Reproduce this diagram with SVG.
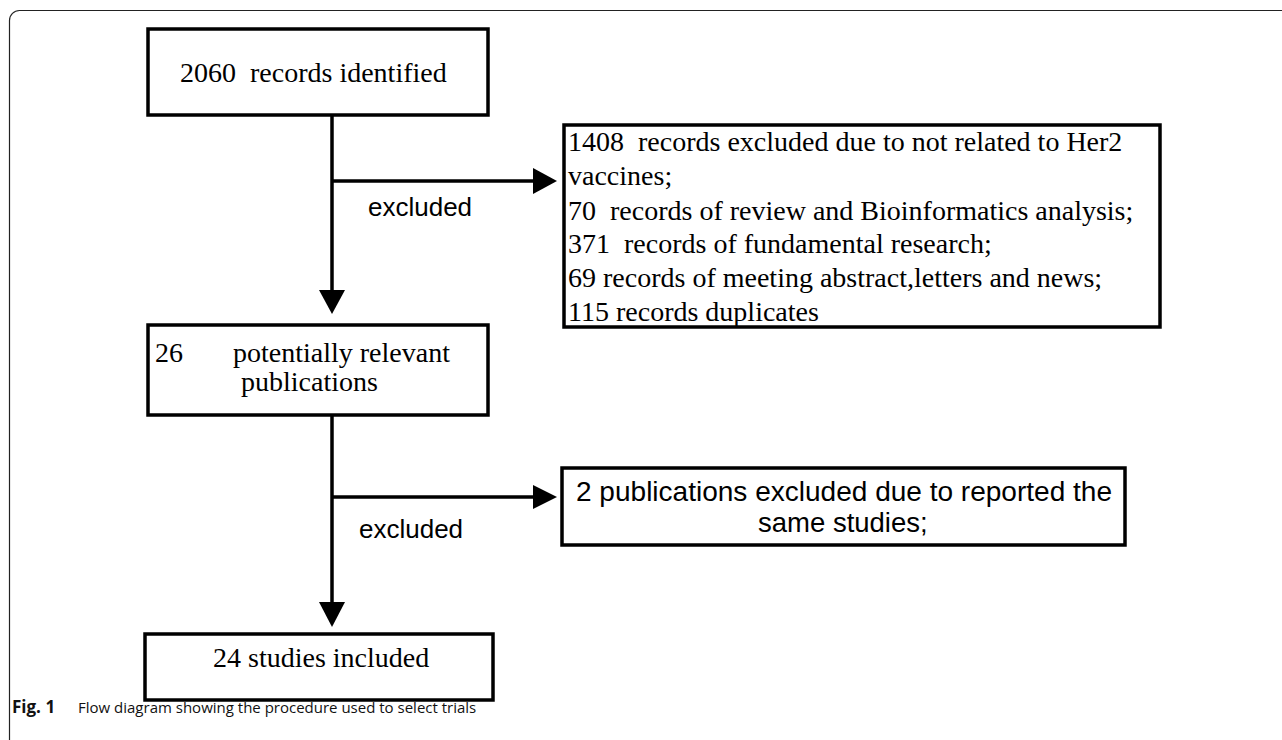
<svg xmlns="http://www.w3.org/2000/svg" width="1282" height="740" viewBox="0 0 1282 740">
<defs>
<style>
.box{fill:#fff;stroke:#000;stroke-width:3.5}
.t{font-family:"Liberation Serif","Times New Roman",serif;font-size:28px;fill:#000}
.s{font-family:"Liberation Sans",Arial,sans-serif;font-size:27.5px;fill:#000}
.x{font-family:"Liberation Sans",Arial,sans-serif;font-size:26px;fill:#000}
.c{stroke:#000;stroke-width:3.5;fill:none}
.cap{font-family:"Open Sans","Noto Sans",sans-serif;font-size:15px;fill:#111}
</style>
</defs>
<rect width="1282" height="740" fill="#fff"/>
<path d="M9.5,740 V20.5 A10,10 0 0 1 19.5,10.5 H1282" fill="none" stroke="#222" stroke-width="1.2"/>

<g id="connectors">
<line class="c" x1="332" y1="115" x2="332" y2="300"/>
<path d="M319,290 L345,290 L332,314 Z" fill="#000"/>
<line class="c" x1="332" y1="181" x2="536" y2="181"/>
<path d="M533,168 L557,181 L533,194 Z" fill="#000"/>
<line class="c" x1="332" y1="415" x2="332" y2="610"/>
<path d="M319,602 L345,602 L332,627 Z" fill="#000"/>
<line class="c" x1="332" y1="497" x2="536" y2="497"/>
<path d="M533,485 L557,497 L533,509 Z" fill="#000"/>
<text class="x" x="368" y="216">excluded</text>
<text class="x" x="359" y="538">excluded</text>
</g>

<g id="n1">
<rect class="box" x="148" y="29" width="340" height="86"/>
<text class="t" x="180" y="82" xml:space="preserve">2060  records identified</text>
</g>

<g id="n2">
<rect class="box" x="564" y="125" width="596" height="202"/>
<text class="t" x="568" y="151" xml:space="preserve">1408  records excluded due to not related to Her2</text>
<text class="t" x="568" y="185">vaccines;</text>
<text class="t" x="568" y="220" xml:space="preserve">70  records of review and Bioinformatics analysis;</text>
<text class="t" x="568" y="253" xml:space="preserve">371  records of fundamental research;</text>
<text class="t" x="568" y="287">69 records of meeting abstract,letters and news;</text>
<text class="t" x="568" y="321">115 records duplicates</text>
</g>

<g id="n3">
<rect class="box" x="148" y="325" width="340" height="90"/>
<text class="t" y="362"><tspan x="155">26</tspan><tspan x="233">potentially relevant</tspan></text>
<text class="t" x="241" y="391">publications</text>
</g>

<g id="n4">
<rect class="box" x="562" y="468" width="563" height="77"/>
<text class="s" x="576" y="501" textLength="536" lengthAdjust="spacingAndGlyphs">2 publications excluded due to reported the</text>
<text class="s" x="758" y="532">same studies;</text>
</g>

<g id="n5">
<rect class="box" x="145" y="634" width="348" height="66"/>
<text class="t" x="213" y="667">24 studies included</text>
</g>

<text class="cap" x="12" y="713"><tspan font-weight="bold" font-size="17">Fig. 1</tspan><tspan x="78">Flow diagram showing the procedure used to select trials</tspan></text>
</svg>
